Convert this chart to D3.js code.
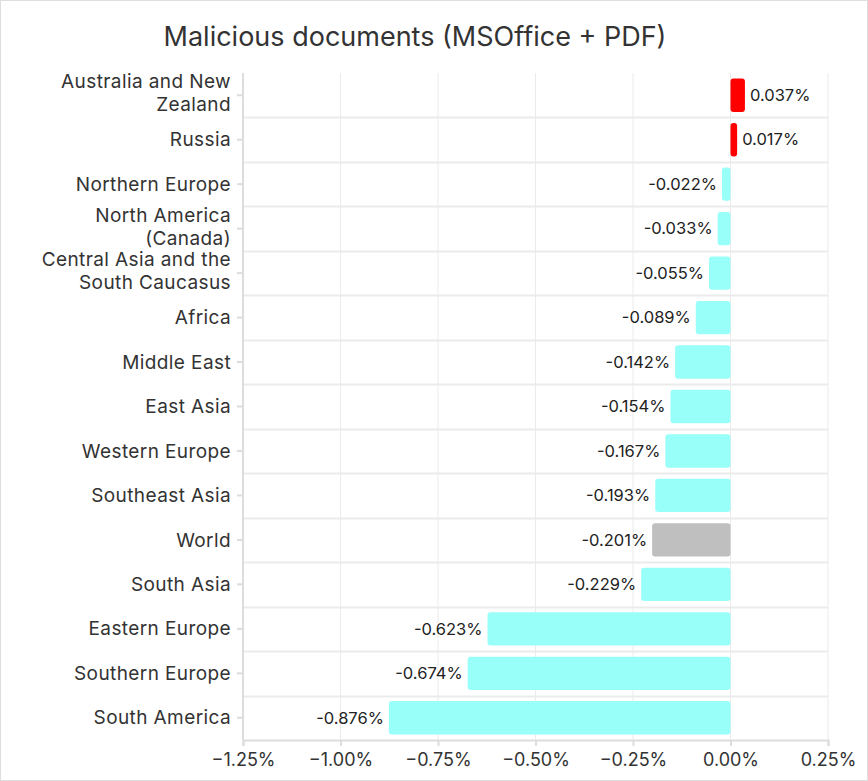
<!DOCTYPE html>
<html>
<head>
<meta charset="utf-8">
<script src="https://cdn.jsdelivr.net/npm/d3@7"></script>
<style>
  body { margin: 0; background: #fff; }
  svg { font-family: "Inter", "Noto Sans", sans-serif; }
</style>
</head>
<body>
<svg id="chart"></svg>
<script>
// data
const regions = [
  "Australia and New|Zealand", "Russia", "Northern Europe", "North America|(Canada)",
  "Central Asia and the|South Caucasus", "Africa", "Middle East", "East Asia",
  "Western Europe", "Southeast Asia", "World", "South Asia", "Eastern Europe",
  "Southern Europe", "South America"
];
const changes = [0.037, 0.017, -0.022, -0.033, -0.055, -0.089, -0.142, -0.154,
  -0.167, -0.193, -0.201, -0.229, -0.623, -0.674, -0.876];
const xTicks = [-1.25, -1.00, -0.75, -0.50, -0.25, 0.00, 0.25];

const width = 868, height = 781;
const margin = { left: 243, right: 40, top: 73, bottom: 41 };

const svg = d3.select("#chart")
    .attr('width', width)
    .attr('height', height);

// outer frame
svg.append('rect')
    .attr('x', 0.5).attr('y', 0.5)
    .attr('width', width - 1).attr('height', height - 1)
    .attr('fill', 'none').attr('stroke', '#dedede');

const xScale = d3.scaleLinear()
    .domain([-1.25, 0.25])
    .range([margin.left, width - margin.right]);

const yScale = d3.scaleBand()
    .domain(regions)
    .range([margin.top, height - margin.bottom])
    .paddingInner(0.25)
    .paddingOuter(0.125);

const step = yScale.step();

// vertical grid
svg.append('g')
    .selectAll('line')
    .data(xTicks)
    .join('line')
    .attr('x1', d => xScale(d)).attr('x2', d => xScale(d))
    .attr('y1', margin.top).attr('y2', height - margin.bottom)
    .attr('stroke', '#ebebeb');

// horizontal grid between rows
svg.append('g')
    .selectAll('line')
    .data(regions.slice(1))
    .join('line')
    .attr('x1', margin.left).attr('x2', width - margin.right)
    .attr('y1', d => Math.round(yScale(d) - step * 0.125) + 0.5)
    .attr('y2', d => Math.round(yScale(d) - step * 0.125) + 0.5)
    .attr('stroke', '#ebebeb')
    .attr('stroke-width', 2);

// x axis
const xAxis = d3.axisBottom(xScale)
    .tickValues(xTicks)
    .tickSize(6)
    .tickPadding(6)
    .tickFormat(d => d3.format(".2f")(d) + "%");
const gx = svg.append('g')
    .attr('transform', 'translate(0,' + (height - margin.bottom) + ')')
    .call(xAxis);
gx.select('.domain').attr('stroke', '#dddddd').attr('stroke-width', 2);
gx.selectAll('.tick line').attr('stroke', '#dddddd').attr('stroke-width', 2);
gx.selectAll('.tick text')
    .attr('font-size', 18)
    .attr('fill', '#333')
    .attr('font-family', 'Inter, sans-serif')
    .attr('dy', '0.75em');

// y axis
svg.append('line')
    .attr('x1', margin.left).attr('x2', margin.left)
    .attr('y1', margin.top).attr('y2', height - margin.bottom)
    .attr('stroke', '#dddddd').attr('stroke-width', 2);

const yTicks = svg.append('g')
    .selectAll('g')
    .data(regions)
    .join('g')
    .attr('transform', d => 'translate(0,' + (yScale(d) + yScale.bandwidth() / 2) + ')');

yTicks.append('line')
    .attr('x1', margin.left - 6).attr('x2', margin.left)
    .attr('stroke', '#dddddd').attr('stroke-width', 2);

yTicks.append('text')
    .attr('x', margin.left - 12)
    .attr('text-anchor', 'end')
    .attr('font-size', 19)
    .attr('letter-spacing', 0.4)
    .attr('fill', '#333')
    .each(function (d) {
        const lines = d.split('|');
        const t = d3.select(this);
        lines.forEach((l, i) => {
            t.append('tspan')
                .attr('x', margin.left - 12)
                .attr('y', (i - (lines.length - 1) / 2) * 23 - (lines.length > 1 ? 2 : 0))
                .attr('dy', '0.35em')
                .text(l);
        });
    });

// bars
const colorOf = (name, v) => name === "World" ? '#bfbfbf' : (v > 0 ? '#ff0000' : '#99fff9');

svg.append('g')
    .selectAll('rect')
    .data(regions)
    .join('rect')
    .attr('x', (d, i) => xScale(Math.min(0, changes[i])))
    .attr('y', d => yScale(d))
    .attr('width', (d, i) => Math.abs(xScale(changes[i]) - xScale(0)))
    .attr('height', yScale.bandwidth())
    .attr('rx', 3)
    .attr('fill', (d, i) => colorOf(d, changes[i]));

// value labels
svg.append('g')
    .selectAll('text')
    .data(regions)
    .join('text')
    .attr('x', (d, i) => xScale(changes[i]) + (changes[i] > 0 ? 5 : -5))
    .attr('y', d => yScale(d) + yScale.bandwidth() / 2)
    .attr('dy', '0.35em')
    .attr('text-anchor', (d, i) => changes[i] > 0 ? 'start' : 'end')
    .attr('font-size', 16.5)
    .attr('fill', '#222')
    .text((d, i) => d3.format(".3f")(changes[i]).replace('−', '-') + '%');

// title
svg.append('text')
    .attr('x', 415)
    .attr('y', 46)
    .attr('text-anchor', 'middle')
    .attr('font-size', 27)
    .attr('fill', '#333')
    .text('Malicious documents (MSOffice + PDF)');
</script>
</body>
</html>
